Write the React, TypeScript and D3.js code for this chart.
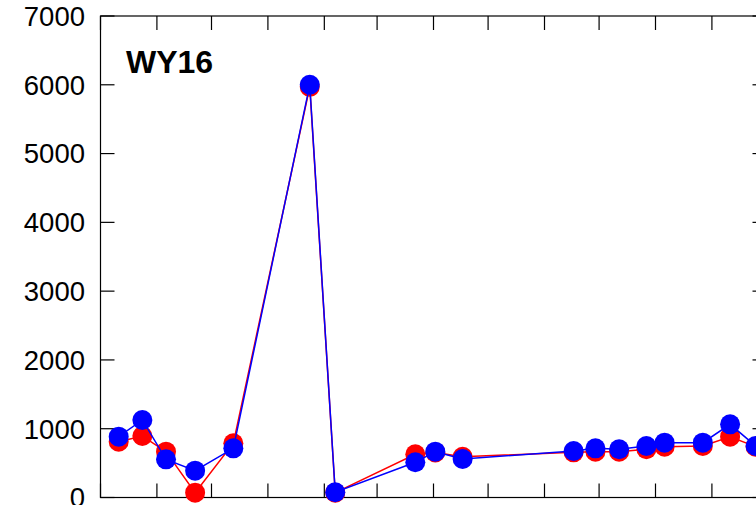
import React from "react";
import * as d3 from "d3";

const dates = [
  "2015-10-11", "2015-10-24", "2015-11-06", "2015-11-22", "2015-12-13",
  "2016-01-24", "2016-02-07", "2016-03-22", "2016-04-02", "2016-04-17",
  "2016-06-17", "2016-06-29", "2016-07-12", "2016-07-27", "2016-08-06",
  "2016-08-27", "2016-09-11", "2016-09-25",
];
const redValues = [811, 894, 666, 70, 788, 5970, 70, 628, 655, 593, 657, 666, 666, 701, 739, 749, 884, 739];
const blueValues = [884, 1127, 555, 390, 715, 6000, 76, 512, 666, 560, 676, 715, 701, 749, 797, 797, 1064, 749];
const yTicks = [0, 1000, 2000, 3000, 4000, 5000, 6000, 7000];
const title = "WY16";

const W = 756, H = 505;
const left = 100.5, right = 766.5, top = 16, bottom = 497.5;
const TL = 14;

export default function App() {
  const x = d3.scaleUtc()
    .domain([new Date("2015-10-01T00:00:00Z"), new Date("2016-10-01T00:00:00Z")])
    .range([left, right]);
  const y = d3.scaleLinear().domain([0, 7000]).range([bottom, top]);
  const xTicks = x.ticks(d3.utcMonth.every(1));
  const parsed = dates.map((d) => new Date(d + "T00:00:00Z"));
  const line = d3.line<number>()
    .x((_, i) => x(parsed[i]))
    .y((v) => y(v));
  const font = "'Liberation Sans', Arial, sans-serif";
  return (
    <svg width={W} height={H} style={{ position: "absolute", left: 0, top: 0, background: "#fff" }}>
      <rect x={0} y={0} width={W} height={H} fill="#fff" />
      <g stroke="#000" strokeWidth={1.2} fill="none">
        <rect x={left} y={top} width={right - left} height={bottom - top} />
        {xTicks.map((t, i) => (
          <g key={"xt" + i}>
            <line x1={x(t)} x2={x(t)} y1={top} y2={top + TL} />
            <line x1={x(t)} x2={x(t)} y1={bottom} y2={bottom - TL} />
          </g>
        ))}
        {yTicks.map((t) => (
          <g key={"yt" + t}>
            <line x1={left} x2={left + TL} y1={y(t)} y2={y(t)} />
            <line x1={right} x2={right - TL} y1={y(t)} y2={y(t)} />
          </g>
        ))}
      </g>
      {yTicks.map((t) => (
        <text key={"yl" + t} x={85} y={y(t)} dy="0.36em" textAnchor="end"
          fontFamily={font} fontSize={27.5} fill="#000">{t}</text>
      ))}
      <text x={126} y={72.5} fontFamily={font} fontWeight="bold" fontSize={32} fill="#000">{title}</text>
      <path d={line(redValues) || ""} fill="none" stroke="#ff0000" strokeWidth={1.5} />
      {redValues.map((v, i) => (
        <circle key={"r" + i} cx={x(parsed[i])} cy={y(v)} r={10} fill="#ff0000" />
      ))}
      <path d={line(blueValues) || ""} fill="none" stroke="#0000ff" strokeWidth={1.5} />
      {blueValues.map((v, i) => (
        <circle key={"b" + i} cx={x(parsed[i])} cy={y(v)} r={10} fill="#0000ff" />
      ))}
    </svg>
  );
}
